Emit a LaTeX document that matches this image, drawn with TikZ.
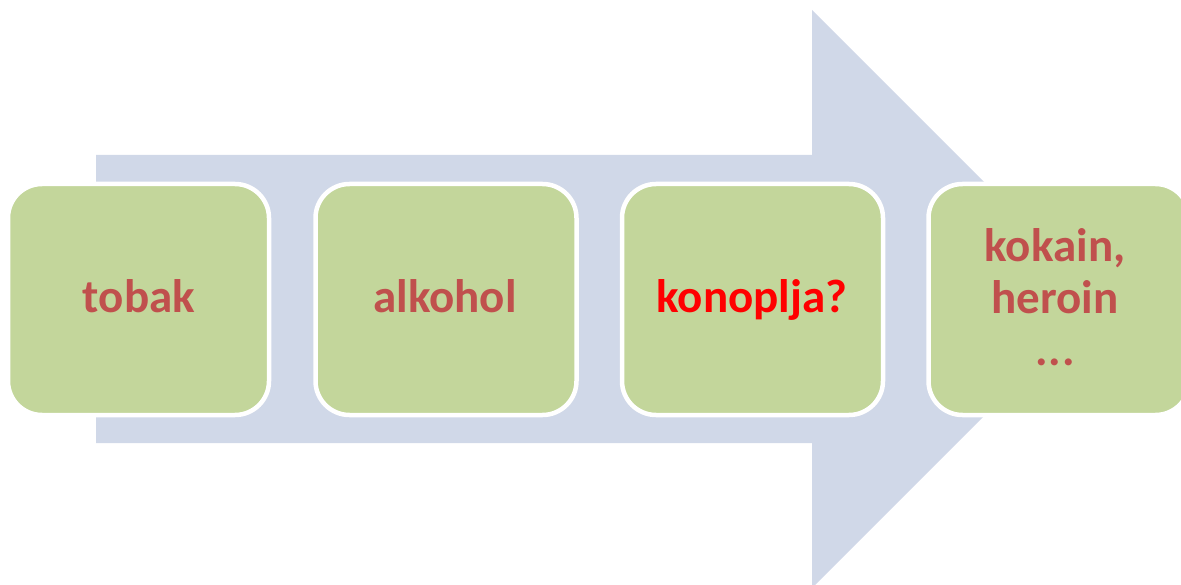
\documentclass[tikz,border=0pt]{standalone}
\usepackage{fontspec}
\setmainfont{Carlito}
\definecolor{arrowfill}{HTML}{D0D8E8}
\definecolor{boxfill}{HTML}{C3D69B}
\definecolor{labeltext}{HTML}{C0504D}
\definecolor{alerttext}{HTML}{FF0000}
\tikzset{
  stagebox/.style={draw=white, line width=4.5pt, fill=boxfill, rounded corners=34pt,
    minimum width=261pt, minimum height=231pt, inner sep=0pt, outer sep=0pt},
  stagelabel/.style={anchor=base, text=labeltext, font=\fontsize{47pt}{52pt}\selectfont\bfseries,
    align=center, inner sep=0pt},
}
\begin{document}
\begin{tikzpicture}[x=1pt, y=-1pt]
  \useasboundingbox (0,0) rectangle (1181,585);
  \clip (0,0) rectangle (1181,585);
  % broad arrow behind the stages
  \fill[arrowfill] (96,155) -- (812,155) -- (812,10) -- (1101,299) -- (812,588)
    -- (812,443) -- (96,443) -- cycle;
  % stage boxes
  \node[stagebox] (b1) at (138.5,299.5) {};
  \node[stagebox] (b2) at (446,299.5) {};
  \node[stagebox] (b3) at (752.5,299.5) {};
  \node[stagebox] (b4) at (1059,299.5) {};
  % stage labels, set on their baselines
  \node[stagelabel] (t1) at (139,313) {tobak};
  \node[stagelabel] (t2) at (445,313) {alkohol};
  \node[stagelabel, text=alerttext] (t3) at (752,313) {konoplja?};
  \node[stagelabel, anchor=north] (t4) at (1055,228) {kokain,\\heroin\\.\kern1pt.\kern1pt.};
\end{tikzpicture}
\end{document}
